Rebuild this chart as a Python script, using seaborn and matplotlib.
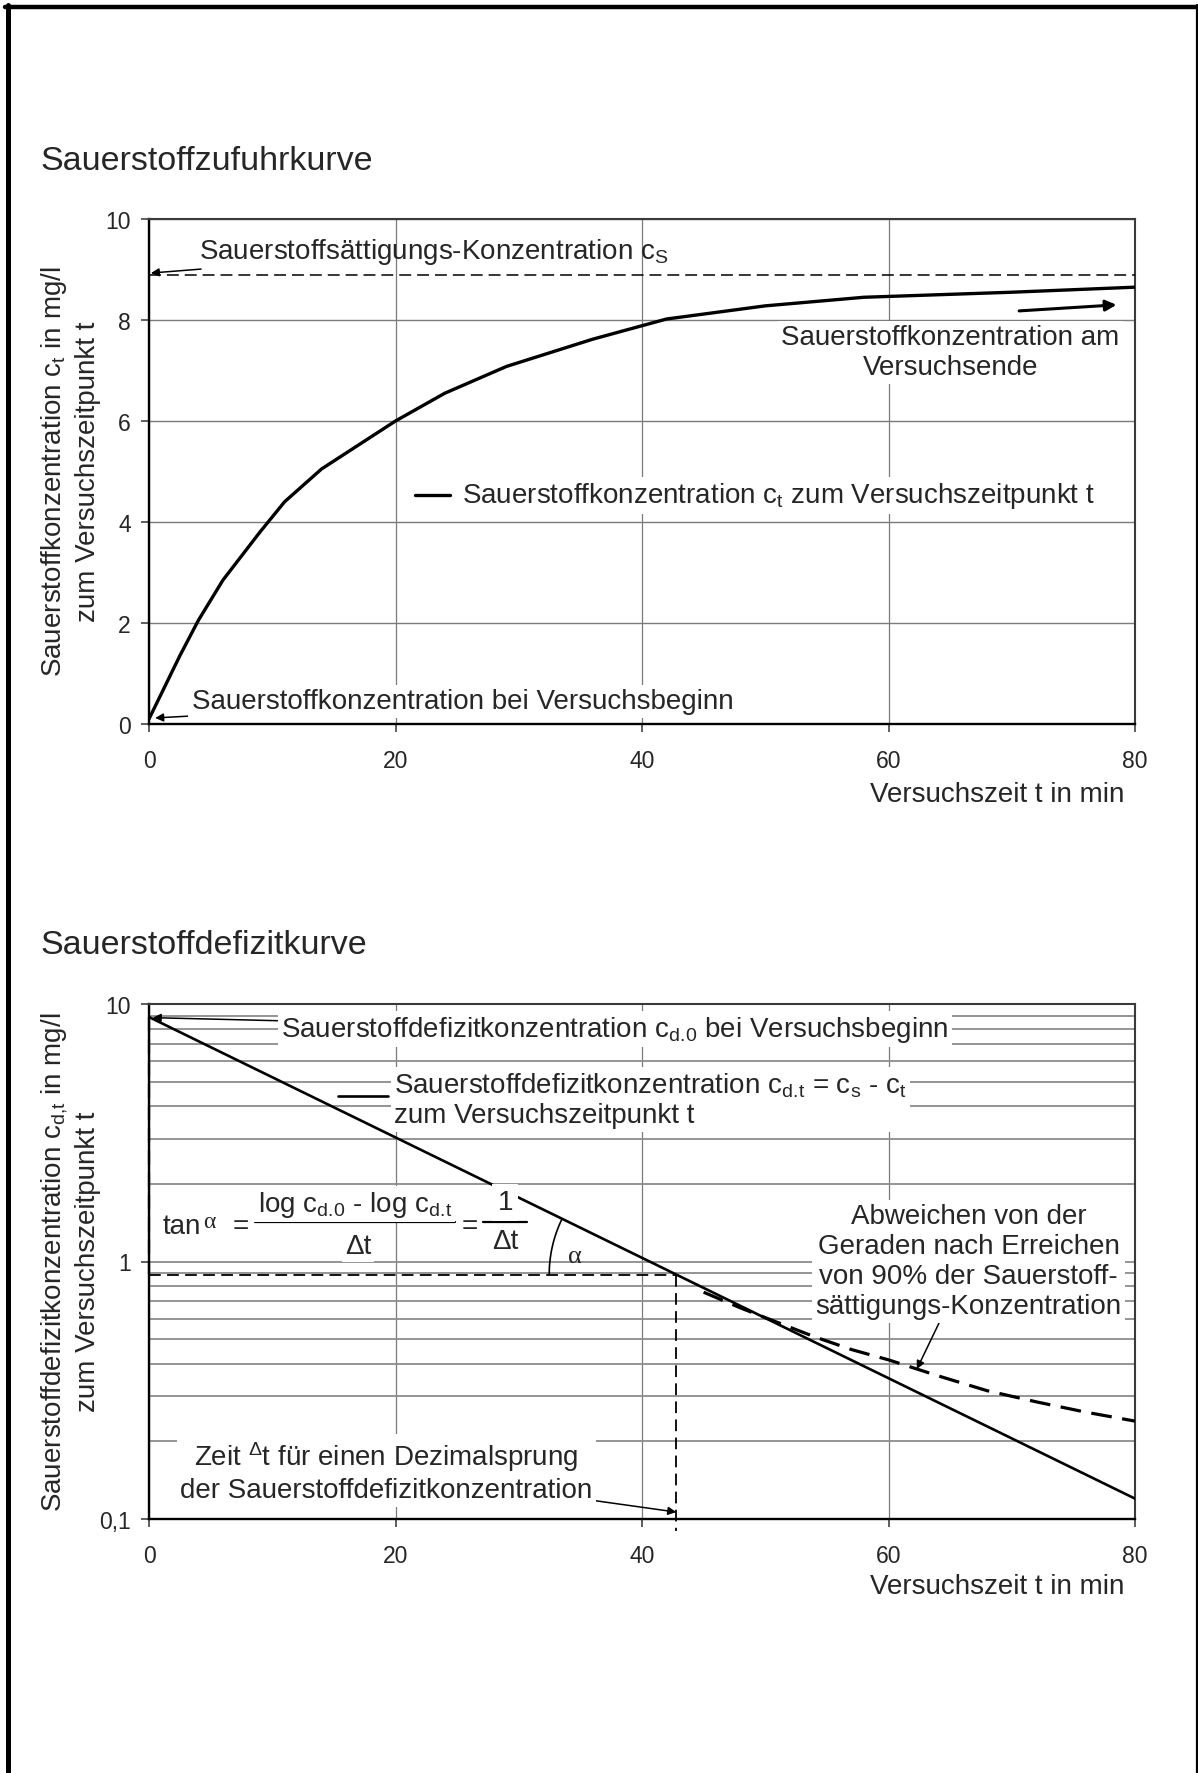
import numpy as np
import matplotlib
matplotlib.use("Agg")
import matplotlib.pyplot as plt
from matplotlib.lines import Line2D
from matplotlib.ticker import LogLocator, NullFormatter, FixedLocator
import seaborn as sns

# --- Sauerstoffzufuhrkurve: Konzentration c_t über der Versuchszeit ---
t_zufuhr = [0, 2.5, 4, 6, 9, 11, 14, 20, 24, 29, 36, 42, 50, 58, 70, 80]
c_zufuhr = [0.1, 1.35, 2.05, 2.85, 3.8, 4.4, 5.05, 6.0, 6.55, 7.08, 7.62, 8.02, 8.28, 8.45, 8.55, 8.65]
c_saettigung = 8.9

# --- Sauerstoffdefizitkurve (logarithmisch) ---
t_gerade = [0, 80]
cd_gerade = [8.9, 0.12]
t_abweichung = [45, 48, 51, 54, 57, 60, 64, 68, 72, 76, 80]
cd_abweichung = [0.76, 0.66, 0.58, 0.51, 0.455, 0.415, 0.36, 0.315, 0.285, 0.26, 0.24]
cd_dezimal = cd_gerade[0] / 10.0

x_ticks = [0, 20, 40, 60, 80]
y_ticks_lin = [0, 2, 4, 6, 8, 10]
y_ticks_log = [0.1, 1, 10]
y_ticklabels_log = ["0,1", "1", "10"]

# time of one decade drop in log space
t_dezimal = t_gerade[1] * np.log10(cd_gerade[0] / cd_dezimal) / np.log10(cd_gerade[0] / cd_gerade[1])

sns.set_style("ticks")
plt.rcParams["font.family"] = ["Liberation Sans", "DejaVu Sans"]
plt.rcParams["mathtext.fontset"] = "custom"
plt.rcParams["mathtext.rm"] = "Liberation Sans"
plt.rcParams["mathtext.it"] = "Liberation Sans:italic"
plt.rcParams["mathtext.default"] = "regular"

W, H = 1198, 1774
fig = plt.figure(figsize=(W / 100, H / 100), dpi=100)
fig.patch.set_facecolor("white")


def fx(px):
    return px / W


def fy(py):
    return 1 - py / H


ax1 = fig.add_axes([fx(149), fy(725), fx(1135) - fx(149), (725 - 220) / H])
ax2 = fig.add_axes([fx(149), fy(1520), fx(1135) - fx(149), (1520 - 1005) / H])

FS = 20
TICK_FS = 16.5
GRID_C = "#7a7a7a"
white_box = dict(boxstyle="square,pad=0.12", fc="white", ec="none")
arrow_thin = dict(arrowstyle="-|>", lw=1.1, color="black", mutation_scale=12,
                  shrinkA=0, shrinkB=0)

# subscripts such as "d.0": pull back the extra space mathtext puts after a dot
SUB_D0 = r"$_{d.\!0}$"
SUB_DT = r"$_{d.\!t}$"

for ax in (ax1, ax2):
    ax.set_xlim(0, 80)
    ax.xaxis.set_major_locator(FixedLocator(x_ticks))
    ax.set_xticklabels([str(v) for v in x_ticks])
    ax.tick_params(axis="x", which="major", direction="out", length=6, width=1.1,
                   labelsize=TICK_FS, pad=12, color="#333333")
    ax.tick_params(axis="y", which="major", direction="out", length=6, width=1.1,
                   labelsize=TICK_FS, pad=7, color="#333333")
    ax.tick_params(which="minor", length=0)
    for side in ("left", "bottom"):
        ax.spines[side].set_linewidth(1.7)
        ax.spines[side].set_color("black")
    for side in ("top", "right"):
        ax.spines[side].set_linewidth(1.5)
        ax.spines[side].set_color("#3a3a3a")
    ax.set_axisbelow(True)
    ax.grid(True, axis="x", which="major", color=GRID_C, lw=0.9)
    ax.set_xlabel("")
    ax.set_ylabel("")

# ------------------------------------------------------------------ top chart
ax1.set_ylim(0, 10)
ax1.yaxis.set_major_locator(FixedLocator(y_ticks_lin))
ax1.set_yticklabels([str(v) for v in y_ticks_lin])
ax1.grid(True, axis="y", which="major", color=GRID_C, lw=1.0)

ax1.axhline(c_saettigung, color="black", lw=1.1, ls=(0, (7.8, 3.9)), zorder=3)
sns.lineplot(x=t_zufuhr, y=c_zufuhr, ax=ax1, color="black", lw=2.4,
             sort=False, estimator=None, zorder=4)

ax1.annotate("Sauerstoffsättigungs-Konzentration c$_S$",
             xy=(0.15, c_saettigung + 0.03), xytext=(4.06, 9.37),
             fontsize=FS, ha="left", va="center", arrowprops=arrow_thin)

ax1.text(65.0, 7.36, "Sauerstoffkonzentration am\nVersuchsende", fontsize=FS,
         ha="center", va="center", multialignment="center", linespacing=1.2,
         bbox=white_box, zorder=5)
ax1.annotate("", xy=(78.5, 8.3), xytext=(70.6, 8.18),
             arrowprops=dict(arrowstyle="-|>", lw=2.2, color="black",
                             mutation_scale=16, shrinkA=0, shrinkB=0))

ax1.plot([21.6, 24.4], [4.53, 4.53], color="black", lw=2.4, zorder=6)
ax1.text(25.4, 4.53, "Sauerstoffkonzentration c$_t$ zum Versuchszeitpunkt t",
         fontsize=FS, ha="left", va="center", bbox=white_box, zorder=5)

ax1.annotate("Sauerstoffkonzentration bei Versuchsbeginn",
             xy=(0.5, 0.12), xytext=(3.46, 0.45), fontsize=FS, ha="left",
             va="center", bbox=white_box, arrowprops=arrow_thin, zorder=5)

# --------------------------------------------------------------- bottom chart
ax2.set_yscale("log")
ax2.set_ylim(0.1, 10)
ax2.yaxis.set_major_locator(FixedLocator(y_ticks_log))
ax2.set_yticklabels(y_ticklabels_log)
ax2.yaxis.set_minor_locator(LogLocator(base=10, subs=np.arange(2, 10)))
ax2.yaxis.set_minor_formatter(NullFormatter())
ax2.grid(True, axis="y", which="both", color="#8c8c8c", lw=1.3)

sns.lineplot(x=t_gerade, y=cd_gerade, ax=ax2, color="black", lw=1.9,
             sort=False, estimator=None, zorder=4)
sns.lineplot(x=t_abweichung, y=cd_abweichung, ax=ax2, color="black", lw=2.3,
             sort=False, estimator=None, zorder=4)
ax2.lines[-1].set_linestyle((0, (6.5, 3.3)))

dash_short = (0, (6.5, 3.5))
ax2.plot([0, t_dezimal], [cd_dezimal, cd_dezimal], color="black", lw=1.3,
         ls=dash_short, zorder=3)
ax2.plot([t_dezimal, t_dezimal], [cd_dezimal, 0.09], color="black", lw=1.3,
         ls=dash_short, zorder=3, clip_on=False)
ax2.plot([0, 0], [cd_gerade[0], cd_dezimal], color="black", lw=1.6,
         ls=dash_short, zorder=6, clip_on=False)

# angle arc at the decade point
cx, cy = ax2.transData.transform((t_dezimal, cd_dezimal))
px0, py0 = ax2.transData.transform((t_gerade[0], cd_gerade[0]))
ang_line = np.degrees(np.arctan2(py0 - cy, px0 - cx))
theta = np.radians(np.linspace(180, ang_line, 40))
r_px = 127
arc_disp = np.column_stack([cx + r_px * np.cos(theta), cy + r_px * np.sin(theta)])
arc_data = ax2.transData.inverted().transform(arc_disp)
ax2.plot(arc_data[:, 0], arc_data[:, 1], color="black", lw=1.2, zorder=4)
ax2.text(34.56, 1.05, "α", fontsize=19, family=["Liberation Serif", "DejaVu Serif"],
         ha="center", va="center", zorder=5)

# tan alpha formula
ax2.text(1.14, 1.374, "tan", fontsize=FS, ha="left", va="center", bbox=white_box, zorder=5)
ax2.text(4.9, 1.43, "α", fontsize=17, family=["Liberation Serif", "DejaVu Serif"],
         ha="center", va="center", zorder=5)
ax2.text(7.47, 1.374, "=", fontsize=FS, ha="center", va="center", zorder=5)
ax2.plot([8.57, 24.85], [1.424, 1.424], color="black", lw=1.6, zorder=5)
ax2.text(16.7, 1.672, "log c" + SUB_D0 + " - log c" + SUB_DT, fontsize=FS,
         ha="center", va="center", bbox=white_box, zorder=5)
ax2.text(16.96, 1.15, "Δt", fontsize=FS, ha="center", va="center",
         bbox=white_box, zorder=5)
ax2.text(26.0, 1.374, "=", fontsize=FS, ha="center", va="center", zorder=5)
ax2.plot([27.1, 30.67], [1.424, 1.424], color="black", lw=1.6, zorder=5)
ax2.text(28.9, 1.70, "1", fontsize=FS, ha="center", va="center",
         bbox=dict(boxstyle="square,pad=0.2", fc="white", ec="none"), zorder=5)
ax2.text(28.9, 1.20, "Δt", fontsize=FS, ha="center", va="center", zorder=5)

ax2.annotate("Sauerstoffdefizitkonzentration c" + SUB_D0 + " bei Versuchsbeginn",
             xy=(0.3, 8.85), xytext=(10.7, 8.0), fontsize=FS, ha="left",
             va="center", bbox=white_box, arrowprops=arrow_thin, zorder=5)

ax2.plot([15.3, 19.4], [4.4, 4.4], color="black", lw=1.9, zorder=6)
ax2.text(19.9, 4.25, "Sauerstoffdefizitkonzentration c" + SUB_DT + " = c$_s$ - c$_t$\n"
         "zum Versuchszeitpunkt t", fontsize=FS, ha="left", va="center",
         linespacing=1.15, bbox=white_box, zorder=5)

ax2.annotate("Abweichen von der\nGeraden nach Erreichen\nvon 90% der Sauerstoff-\n"
             "sättigungs-Konzentration", xy=(62.3, 0.382), xytext=(66.5, 1.0),
             fontsize=FS, ha="center", va="center", multialignment="center",
             linespacing=1.2, bbox=white_box, arrowprops=arrow_thin, zorder=5)

ax2.annotate("Zeit $^{Δ}$t für einen Dezimalsprung\nder Sauerstoffdefizitkonzentration",
             xy=(t_dezimal, 0.1064), xytext=(19.27, 0.153), fontsize=FS,
             ha="center", va="center", multialignment="center", linespacing=1.2,
             bbox=white_box, arrowprops=arrow_thin, zorder=5)

# ------------------------------------------------------------- titles, labels
fig.text(fx(40), fy(162), "Sauerstoffzufuhrkurve", fontsize=24.5, ha="left", va="center")
fig.text(fx(40), fy(946), "Sauerstoffdefizitkurve", fontsize=24.5, ha="left", va="center")

fig.text(fx(1124), fy(795), "Versuchszeit t in min", fontsize=FS, ha="right", va="center")
fig.text(fx(1124), fy(1587), "Versuchszeit t in min", fontsize=FS, ha="right", va="center")

fig.text(fx(70), fy(472), "Sauerstoffkonzentration c$_t$ in mg/l\nzum Versuchszeitpunkt t",
         fontsize=FS, rotation=90, ha="center", va="center",
         multialignment="center", linespacing=1.28)
fig.text(fx(70), fy(1262), "Sauerstoffdefizitkonzentration c$_{d{,}t}$ in mg/l\nzum Versuchszeitpunkt t",
         fontsize=FS, rotation=90, ha="center", va="center",
         multialignment="center", linespacing=1.28)

# page frame
fig.add_artist(Line2D([fx(7.5), fx(7.5)], [0, fy(6)], transform=fig.transFigure,
                      color="black", lw=3.6))
fig.add_artist(Line2D([fx(5), 1], [fy(8), fy(8)], transform=fig.transFigure,
                      color="black", lw=3.2))
fig.add_artist(Line2D([fx(1196.5), fx(1196.5)], [0, fy(6)], transform=fig.transFigure,
                      color="black", lw=1.6))

fig.savefig("out.png", dpi=100, facecolor="white")
